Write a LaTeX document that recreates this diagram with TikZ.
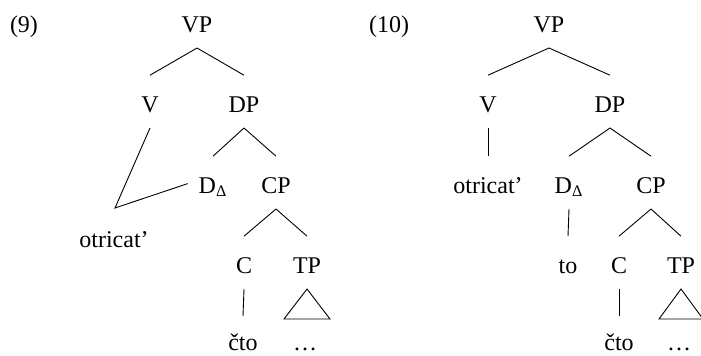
\documentclass[tikz,border=0pt]{standalone}
\usepackage{fontspec}
\setmainfont{Liberation Serif}
\usetikzlibrary{calc}
\tikzset{
  lbl/.style={inner sep=0pt, outer sep=0pt, text height=18.4pt, text depth=8pt, anchor=base},
  leaf/.style={inner sep=0pt, outer sep=0pt, text height=17pt, text depth=0pt, anchor=base},
  numlbl/.style={inner sep=0pt, anchor=base},
  branch/.style={line width=0.45pt},
  every node/.style={font=\fontsize{12}{14}\selectfont}
}
\begin{document}
\begin{tikzpicture}[x=0.5pt,y=-0.5pt]
\useasboundingbox (0,0) rectangle (701,355);
% ---------- (9) ----------
\node[numlbl] (lab9) at (24,32) {(9)};
\node[lbl] (VP9) at (197,32) {VP};
\node[lbl] (V9) at (150,112) {V};
\node[lbl] (DP9) at (244,112) {DP};
\node[lbl] (D9) at (213,193) {D\textsubscript{Δ}};
\node[lbl] (CP9) at (276,193) {CP};
\node[lbl] (C9) at (244,273) {C};
\node[lbl] (TP9) at (307,273) {TP};
\node[leaf] (cto9) at (243,350) {čto};
\node[leaf] (dots9) at (305,350) {\dots};
\node[lbl] (otr9) at (114,247) {otricat’};
\coordinate (m9) at (115,208);
\draw[branch] (VP9.south) -- (V9.north);
\draw[branch] (VP9.south) -- (DP9.north);
\draw[branch] (DP9.south) -- (D9.north);
\draw[branch] (DP9.south) -- (CP9.north);
\draw[branch] (CP9.south) -- (C9.north);
\draw[branch] (CP9.south) -- (TP9.north);
\draw[branch] (C9.south) -- (cto9.north);
\draw[branch] (TP9.south) -- ++(-23,30) -- ++(46,0) -- cycle;
\draw[branch] (V9.south) -- (m9) -- ($(D9.west)+(-11,1)$);
% ---------- (10) ----------
\node[numlbl] (lab10) at (389,32) {(10)};
\node[lbl] (VP10) at (549,32) {VP};
\node[lbl] (V10) at (488,112) {V};
\node[lbl] (DP10) at (610,112) {DP};
\node[lbl] (otr10) at (488,193) {otricat’};
\node[lbl] (D10) at (569,193) {D\textsubscript{Δ}};
\node[lbl] (CP10) at (651,193) {CP};
\node[lbl] (to10) at (568,273) {to};
\node[lbl] (C10) at (619,273) {C};
\node[lbl] (TP10) at (681,273) {TP};
\node[leaf] (cto10) at (619,350) {čto};
\node[leaf] (dots10) at (679,350) {\dots};
\draw[branch] (VP10.south) -- (V10.north);
\draw[branch] (VP10.south) -- (DP10.north);
\draw[branch] (V10.south) -- (otr10.north);
\draw[branch] (DP10.south) -- (D10.north);
\draw[branch] (DP10.south) -- (CP10.north);
\draw[branch] (D10.south) -- (to10.north);
\draw[branch] (CP10.south) -- (C10.north);
\draw[branch] (CP10.south) -- (TP10.north);
\draw[branch] (C10.south) -- (cto10.north);
\draw[branch] (TP10.south) -- ++(-22,30) -- ++(44,0) -- cycle;
\end{tikzpicture}
\end{document}
